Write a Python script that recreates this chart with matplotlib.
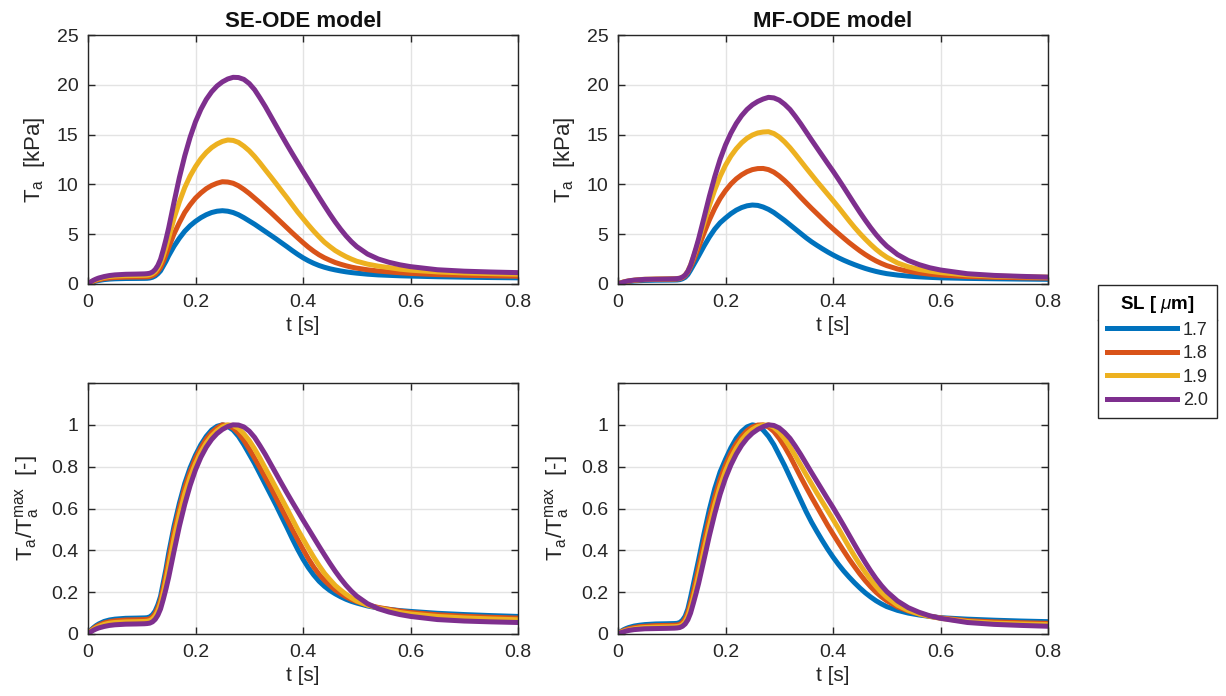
import numpy as np
import matplotlib
matplotlib.use('Agg')
import matplotlib.pyplot as plt
from matplotlib.lines import Line2D

plt.rcParams['font.family'] = ['Liberation Sans', 'DejaVu Sans']
plt.rcParams['mathtext.fontset'] = 'custom'
plt.rcParams['mathtext.rm'] = 'Liberation Sans'
plt.rcParams['mathtext.it'] = 'Liberation Sans:italic'
plt.rcParams['mathtext.bf'] = 'Liberation Sans:bold'

# time samples [s]
t = [0, 0.005, 0.01, 0.015, 0.02, 0.03, 0.04, 0.05, 0.07, 0.09,
     0.105, 0.11, 0.115, 0.12, 0.125, 0.13, 0.135, 0.14, 0.145, 0.15,
     0.16, 0.17, 0.18, 0.19, 0.20, 0.21, 0.22, 0.23, 0.24, 0.25,
     0.26, 0.27, 0.28, 0.29, 0.30, 0.31, 0.32, 0.33, 0.34, 0.35,
     0.36, 0.37, 0.38, 0.39, 0.40, 0.41, 0.42, 0.43, 0.44, 0.45,
     0.46, 0.47, 0.48, 0.49, 0.50, 0.52, 0.54, 0.56, 0.58, 0.60,
     0.65, 0.70, 0.75, 0.80]

sl_labels = ['1.7', '1.8', '1.9', '2.0']
colors = ['#0072BD', '#D95319', '#EDB120', '#7E2F8E']

# peak active tension [kPa]
se_peak = [7.36, 10.27, 14.46, 20.75]
mf_peak = [7.93, 11.6, 15.29, 18.74]

# normalised shapes Ta/Ta_max
se_17 = [0, 0.018, 0.03, 0.04, 0.048, 0.06, 0.067, 0.071, 0.075, 0.076,
         0.077, 0.078, 0.082, 0.092, 0.11, 0.14, 0.18, 0.245, 0.31, 0.385,
         0.515, 0.625, 0.72, 0.795, 0.855, 0.905, 0.945, 0.975, 0.993, 1.0,
         0.993, 0.975, 0.945, 0.905, 0.86, 0.815, 0.765, 0.715, 0.665, 0.615,
         0.562, 0.51, 0.456, 0.405, 0.358, 0.317, 0.282, 0.252, 0.228, 0.208,
         0.192, 0.178, 0.166, 0.156, 0.148, 0.134, 0.124, 0.118, 0.112, 0.108,
         0.099, 0.093, 0.088, 0.084]
se_18 = [0, 0.015, 0.026, 0.035, 0.042, 0.053, 0.059, 0.063, 0.067, 0.068,
         0.069, 0.07, 0.073, 0.082, 0.098, 0.125, 0.162, 0.22, 0.285, 0.355,
         0.49, 0.60, 0.70, 0.775, 0.84, 0.89, 0.932, 0.963, 0.985, 1.0,
         0.997, 0.985, 0.96, 0.925, 0.885, 0.84, 0.795, 0.747, 0.70, 0.65,
         0.60, 0.55, 0.50, 0.452, 0.405, 0.36, 0.32, 0.285, 0.256, 0.232,
         0.21, 0.193, 0.178, 0.165, 0.155, 0.139, 0.127, 0.118, 0.11, 0.103,
         0.092, 0.085, 0.08, 0.076]
se_19 = [0, 0.013, 0.022, 0.03, 0.036, 0.046, 0.052, 0.055, 0.058, 0.059,
         0.06, 0.061, 0.064, 0.072, 0.086, 0.11, 0.145, 0.195, 0.255, 0.32,
         0.455, 0.57, 0.67, 0.75, 0.815, 0.87, 0.913, 0.947, 0.972, 0.99,
         1.0, 0.997, 0.983, 0.957, 0.925, 0.885, 0.84, 0.792, 0.745, 0.697,
         0.648, 0.60, 0.55, 0.50, 0.455, 0.41, 0.367, 0.327, 0.29, 0.26,
         0.232, 0.21, 0.19, 0.173, 0.158, 0.138, 0.124, 0.114, 0.103, 0.096,
         0.084, 0.077, 0.072, 0.068]
se_20 = [0, 0.01, 0.018, 0.024, 0.029, 0.036, 0.041, 0.044, 0.047, 0.048,
         0.049, 0.05, 0.052, 0.058, 0.07, 0.09, 0.12, 0.165, 0.215, 0.27,
         0.395, 0.515, 0.62, 0.71, 0.785, 0.845, 0.893, 0.93, 0.958, 0.978,
         0.992, 1.0, 0.999, 0.99, 0.97, 0.94, 0.90, 0.858, 0.812, 0.766,
         0.72, 0.675, 0.631, 0.588, 0.545, 0.503, 0.461, 0.419, 0.378, 0.338,
         0.30, 0.265, 0.233, 0.205, 0.181, 0.145, 0.121, 0.105, 0.093, 0.084,
         0.069, 0.062, 0.058, 0.055]

mf_17 = [0, 0.012, 0.02, 0.026, 0.031, 0.038, 0.042, 0.045, 0.048, 0.049,
         0.05, 0.051, 0.055, 0.066, 0.085, 0.12, 0.175, 0.235, 0.295, 0.355,
         0.48, 0.595, 0.695, 0.775, 0.835, 0.89, 0.935, 0.968, 0.99, 1.0,
         0.995, 0.975, 0.945, 0.905, 0.855, 0.805, 0.75, 0.695, 0.64, 0.585,
         0.535, 0.49, 0.447, 0.406, 0.368, 0.333, 0.301, 0.272, 0.245, 0.22,
         0.197, 0.177, 0.159, 0.144, 0.131, 0.113, 0.10, 0.091, 0.084, 0.078,
         0.071, 0.066, 0.062, 0.059]
mf_18 = [0, 0.01, 0.016, 0.021, 0.025, 0.031, 0.035, 0.037, 0.04, 0.041,
         0.042, 0.043, 0.046, 0.055, 0.072, 0.102, 0.148, 0.20, 0.258, 0.318,
         0.44, 0.555, 0.655, 0.74, 0.808, 0.865, 0.91, 0.945, 0.972, 0.99,
         0.999, 1.0, 0.99, 0.968, 0.935, 0.895, 0.85, 0.80, 0.75, 0.702,
         0.655, 0.61, 0.565, 0.52, 0.478, 0.437, 0.397, 0.358, 0.322, 0.287,
         0.255, 0.226, 0.20, 0.178, 0.159, 0.13, 0.11, 0.096, 0.085, 0.077,
         0.064, 0.058, 0.054, 0.051]
mf_19 = [0, 0.008, 0.013, 0.017, 0.02, 0.025, 0.029, 0.031, 0.033, 0.034,
         0.035, 0.036, 0.038, 0.045, 0.059, 0.085, 0.125, 0.172, 0.225, 0.282,
         0.40, 0.515, 0.618, 0.707, 0.78, 0.84, 0.888, 0.927, 0.957, 0.978,
         0.992, 0.998, 1.0, 0.988, 0.965, 0.933, 0.895, 0.852, 0.807, 0.762,
         0.718, 0.674, 0.632, 0.59, 0.548, 0.505, 0.46, 0.415, 0.372, 0.332,
         0.295, 0.26, 0.228, 0.20, 0.176, 0.138, 0.113, 0.096, 0.084, 0.075,
         0.06, 0.052, 0.048, 0.045]
mf_20 = [0, 0.006, 0.01, 0.014, 0.017, 0.021, 0.023, 0.025, 0.026, 0.027,
         0.028, 0.029, 0.031, 0.037, 0.048, 0.068, 0.10, 0.145, 0.192, 0.242,
         0.355, 0.47, 0.575, 0.668, 0.745, 0.808, 0.86, 0.902, 0.935, 0.96,
         0.978, 0.991, 1.0, 0.997, 0.985, 0.963, 0.935, 0.898, 0.858, 0.815,
         0.772, 0.73, 0.688, 0.646, 0.605, 0.562, 0.518, 0.473, 0.428, 0.384,
         0.342, 0.302, 0.265, 0.232, 0.203, 0.158, 0.126, 0.104, 0.087, 0.075,
         0.055, 0.046, 0.041, 0.037]

models = [
    ('SE-ODE model', se_peak, [se_17, se_18, se_19, se_20]),
    ('MF-ODE model', mf_peak, [mf_17, mf_18, mf_19, mf_20]),
]

fig = plt.figure(figsize=(12.26, 6.96), dpi=100)
W, H = 1226, 696
axcol = '#262626'
lw = 3.6


def style(ax):
    ax.set_xlim(0, 0.8)
    ax.set_xticks([0, 0.2, 0.4, 0.6, 0.8])
    ax.set_xticklabels(['0', '0.2', '0.4', '0.6', '0.8'])
    ax.grid(True, color='#e3e3e3', linewidth=1)
    ax.set_axisbelow(True)
    ax.tick_params(direction='in', top=True, right=True, length=5, width=1,
                   labelsize=14, colors=axcol, labelcolor=axcol, pad=7)
    for s in ax.spines.values():
        s.set_color(axcol)
        s.set_linewidth(1)
    ax.set_xlabel('t [s]', fontsize=15, color=axcol, labelpad=4)


lefts = [88, 618]
for j, (title, peaks, shapes) in enumerate(models):
    x0 = lefts[j] / W
    w = 430 / W
    ax_top = fig.add_axes([x0, 1 - 284 / H, w, 249 / H])
    ax_bot = fig.add_axes([x0, 1 - 634 / H, w, 251 / H])
    for k in range(4):
        ta = peaks[k] * np.array(shapes[k])
        ax_top.plot(t, ta, color=colors[k], lw=lw, label=sl_labels[k],
                    solid_joinstyle='round', solid_capstyle='round')
        ax_bot.plot(t, ta / ta.max(), color=colors[k], lw=lw,
                    solid_joinstyle='round', solid_capstyle='round')
    style(ax_top)
    style(ax_bot)
    ax_top.set_ylim(0, 25)
    ax_top.set_yticks([0, 5, 10, 15, 20, 25])
    ax_bot.set_ylim(0, 1.2)
    ax_bot.set_yticks([0, 0.2, 0.4, 0.6, 0.8, 1.0, 1.2])
    ax_bot.set_yticklabels(['0', '0.2', '0.4', '0.6', '0.8', '1', ''])
    ax_top.set_title(title, fontsize=16, fontweight='bold', color='#111111', pad=6)
    ax_top.set_ylabel(r'T$_{\rm a}$  [kPa]', fontsize=16, color=axcol, labelpad=7)
    ax_bot.set_ylabel(r'T$_{\rm a}$/T$_{\rm a}^{\rm max}$  [-]', fontsize=16,
                      color=axcol, labelpad=7)

handles = [Line2D([], [], color=c, lw=lw) for c in colors]
leg = fig.legend(handles, sl_labels, title=r'SL [ $\mu$m]',
                 loc='upper left', bbox_to_anchor=(1098 / W, 1 - 285 / H),
                 fontsize=13, title_fontproperties={'weight': 'bold', 'size': 13.5},
                 frameon=True, fancybox=False, edgecolor='#262626', framealpha=1,
                 handlelength=3.9, handletextpad=0.3, labelspacing=0.36,
                 borderpad=0.5, borderaxespad=0)
leg.get_frame().set_linewidth(1)
for txt in leg.get_texts():
    txt.set_color(axcol)

fig.canvas.draw()
lb = leg.get_window_extent()
tb = leg.get_title().get_window_extent()
ysep = (tb.y0 - 5) / H
fig.add_artist(Line2D([lb.x0 / W, lb.x1 / W], [ysep, ysep], color='#262626',
                      lw=1, transform=fig.transFigure))

fig.savefig('out.png', dpi=100)
